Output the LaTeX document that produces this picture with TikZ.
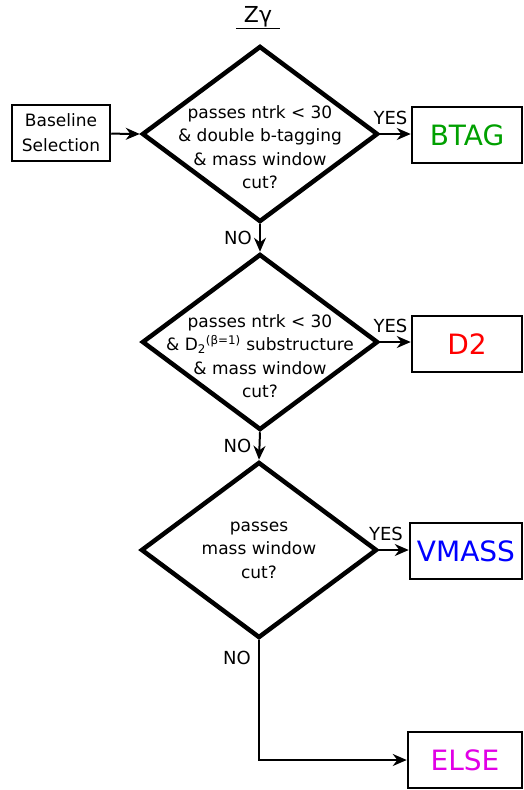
\documentclass[tikz,border=0pt]{standalone}
\usepackage{fontspec}
\setmainfont{DejaVu Sans}
\usetikzlibrary{shapes.geometric,arrows.meta}

\definecolor{btaggreen}{RGB}{0,160,0}
\definecolor{elsemagenta}{RGB}{225,0,230}

\begin{document}
\begin{tikzpicture}[x=1pt,y=-1pt,
    font=\fontsize{17}{23.5}\selectfont,
    decision/.style={diamond,draw,line width=4.5pt,minimum width=236pt,minimum height=176pt,inner sep=0pt},
    start box/.style={rectangle,draw,line width=2.5pt,minimum width=98pt,minimum height=56pt,align=center,font=\fontsize{17}{25}\selectfont},
    cat box/.style={rectangle,draw,line width=2.5pt,minimum width=110pt,minimum height=56pt,font=\fontsize{28}{32}\selectfont},
    arr/.style={-{Stealth[length=14pt,width=12pt]},line width=2pt},
    answer/.style={font=\fontsize{18}{20}\selectfont}]
    \useasboundingbox (0,0) rectangle (524,790);

    % title
    \node[inner xsep=8pt,inner ysep=1pt,font=\fontsize{22}{26}\selectfont] (title) at (258,17) {Zγ};
    \draw[line width=1.5pt] (title.south west) -- (title.south east);

    \node[start box] (base) at (61,133) {Baseline\\Selection};

    % decisions
    \node[decision,label={[align=center,yshift=-13pt]center:passes ntrk < 30\\\& double b-tagging\\\& mass window\\cut?}] (d1) at (260,134) {};
    \node[decision,label={[align=center,yshift=-14pt]center:passes ntrk < 30\\\& D\textsubscript{2}\textsuperscript{(β=1)} substructure\\\& mass window\\cut?}] (d2) at (260,342) {};
    \node[decision,label={[align=center]center:passes\\mass window\\cut?}] (d3) at (259,550) {};

    % categories
    \node[cat box,text=btaggreen] (btag) at (467,135) {BTAG};
    \node[cat box,text=red] (dtwo) at (467,344) {D2};
    \node[cat box,text=blue,minimum width=112pt] (vmass) at (466,551) {VMASS};
    \node[cat box,text=elsemagenta,minimum width=114pt] (else) at (465,760) {ELSE};

    \draw[arr] (base) -- (d1.west);
    \draw[arr] (d1.east) -- node[answer,above,xshift=-5pt,yshift=5pt] {YES} (d1.east -| btag.west);
    \draw[arr] (d2.east) -- node[answer,above,xshift=-5pt,yshift=5pt] {YES} (d2.east -| dtwo.west);
    \draw[arr] (d3.east) -- node[answer,above,xshift=-8pt,yshift=5pt] {YES} (d3.east -| vmass.west);
    \draw[arr] (d1.south) -- node[answer,left,xshift=-4pt] {NO} (d2.north);
    \draw[arr] (d2.south) -- node[answer,left,xshift=-4pt] {NO} (d3.north);
    \draw[arr] (d3.south) -- node[answer,left,pos=0.15,xshift=-4pt] {NO} (d3.south |- else.west) -- (else.west);
\end{tikzpicture}
\end{document}
